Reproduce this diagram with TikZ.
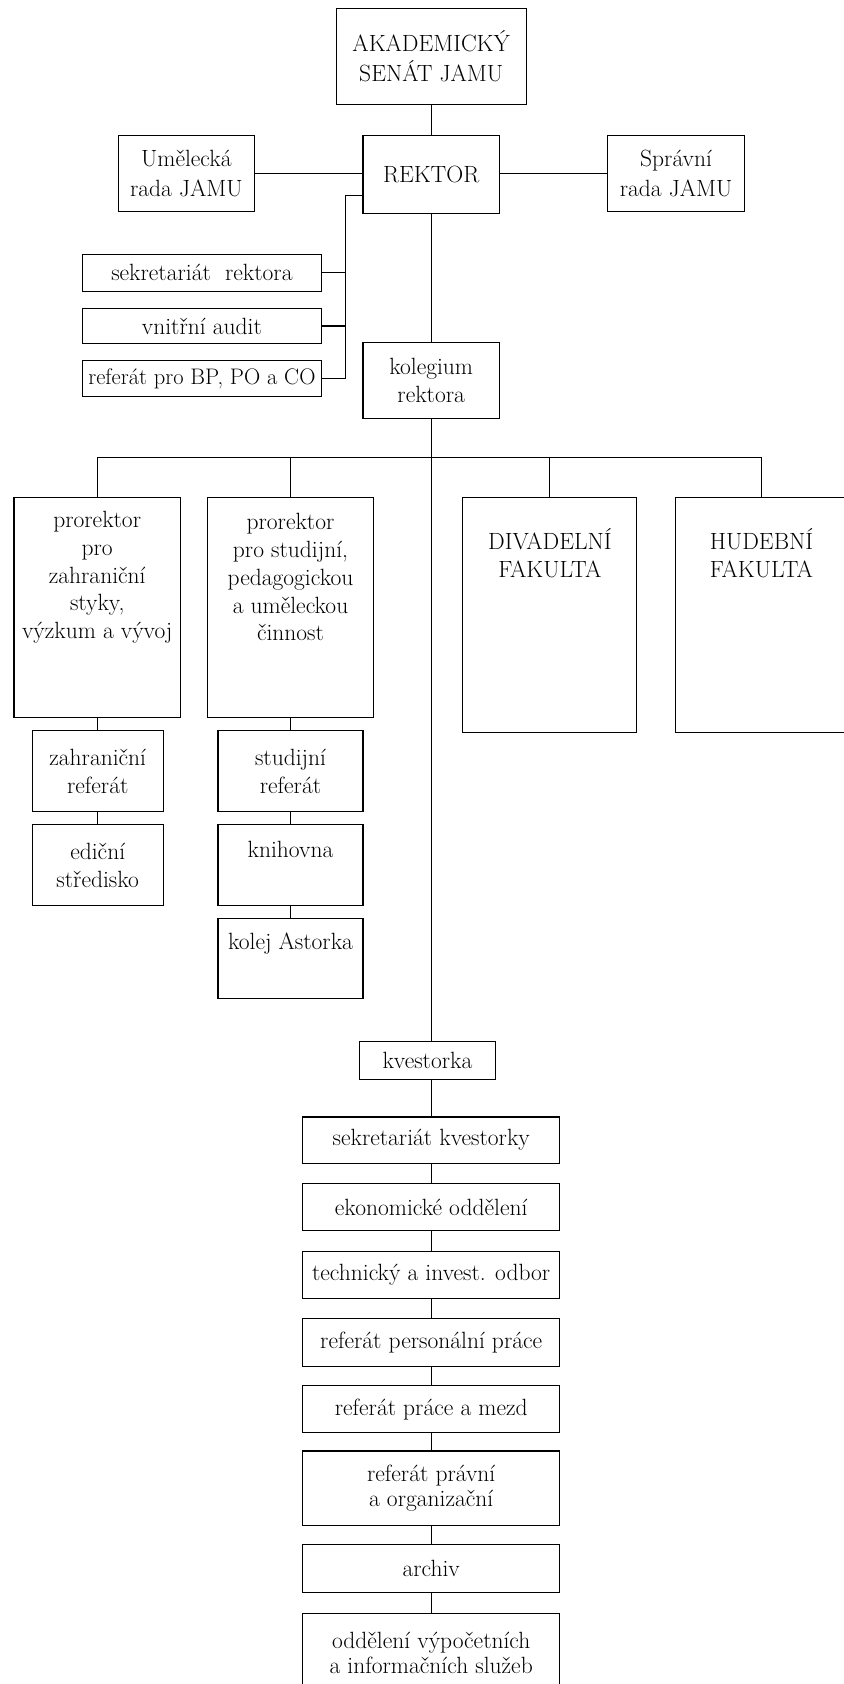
\documentclass[tikz,border=0pt]{standalone}
\usepackage{fontspec}
\newcommand\obox[6][]{\node[box,#1,minimum width={(#5-#3)*1.0739pt},minimum height={(#6-#4)*1.0739pt}] (#2) at ({(#3+#5)/2},{(#4+#6)/2})}
\begin{document}
\begin{tikzpicture}[x=1.0739pt,y=-1.0739pt,
  box/.style={draw,line width=1.1pt,rectangle,inner sep=0pt,align=center,
    font=\fontsize{23.5}{27.7}\selectfont},
  wide/.style={font=\fontsize{23.5}{30.5}\selectfont},
  tight/.style={font=\fontsize{23.5}{25}\selectfont},
  txt/.style={inner sep=0pt,align=center,font=\fontsize{23.5}{27.7}\selectfont},
  con/.style={line width=1.1pt}]
\useasboundingbox (0,0) rectangle (785,1568);
% top level
\obox[wide]{senat}{313}{8}{490}{97} {AKADEMICKÝ\\SENÁT JAMU};
\obox{rektor}{338}{126}{465}{199} {REKTOR};
\obox[wide]{umel}{110}{126}{237}{197} {Umělecká\\rada JAMU};
\obox[wide]{sprav}{566}{126}{693}{197} {Správní\\rada JAMU};
\obox{sek}{77}{237}{299}{271} {sekretariát\ \ rektora};
\obox{aud}{77}{287}{299}{320} {vnitřní audit};
\obox[font=\fontsize{22.5}{27}\selectfont]{ref}{77}{336}{299}{369} {referát pro BP, PO a CO};
\obox{kol}{338}{319}{465}{390} {kolegium\\rektora};
% second level
\obox{pr1}{13}{463}{168}{668} {};
\node[txt] (tpr1) at (90.5,537.5) {prorektor\\pro\\zahraniční\\styky,\\výzkum a vývoj};
\obox{pr2}{193}{463}{348}{668} {};
\node[txt] (tpr2) at (270.5,537.5) {prorektor\\pro studijní,\\pedagogickou\\a uměleckou\\činnost};
\obox{div}{431}{463}{593}{682} {};
\node[txt] (tdiv) at (512,515) {DIVADELNÍ\\FAKULTA};
\obox{hud}{629}{463}{789}{682} {};
\node[txt] (thud) at (709,515) {HUDEBNÍ\\FAKULTA};
\obox{zref}{30}{680}{152}{756} {zahraniční\\referát};
\obox{edic}{30}{768}{152}{843} {ediční\\středisko};
\obox{sref}{203}{680}{338}{756} {studijní\\referát};
\obox{knih}{203}{768}{338}{843} {};
\node[txt,anchor=base] (tknih) at (270.5,798) {knihovna};
\obox{kolej}{203}{855}{338}{930} {};
\node[txt,anchor=base] (tkolej) at (270.5,884) {kolej Astorka};
% kvestorka branch
\obox{kv}{335}{970}{461}{1005} {kvestorka};
\obox{k1}{282}{1040}{521}{1083} {sekretariát kvestorky};
\obox{k2}{282}{1102}{521}{1146} {ekonomické oddělení};
\obox{k3}{282}{1165}{521}{1209} {technický a invest. odbor};
\obox{k4}{282}{1228}{521}{1272} {referát personální práce};
\obox{k5}{282}{1290}{521}{1334} {referát práce a mezd};
\obox[tight]{k6}{282}{1351}{521}{1420} {referát právní\\a organizační};
\obox{k7}{282}{1438}{521}{1483} {archiv};
\obox{k8}{282}{1502}{521}{1590} {};
\node[txt,tight] (tk8) at (401.5,1539) {oddělení výpočetních\\a informačních služeb};
% connectors
\draw[con] (senat.south) -- (senat.south |- rektor.north);
\draw[con] (umel.east) -- (umel.east -| rektor.west);
\draw[con] (sprav.west) -- (sprav.west -| rektor.east);
\draw[con] (rektor.south) -- (rektor.south |- kol.north);
\coordinate (jr) at (322,182);
\draw[con] (jr -| rektor.west) -- (jr) |- (ref.east);
\draw[con] (sek.east) -- (sek.east -| jr);
\draw[con] (aud.east) -- (aud.east -| jr);
\coordinate (bus) at (402,426);
\draw[con] (pr1.north) |- (bus) -| (hud.north);
\draw[con] (pr2.north) -- (pr2.north |- bus);
\draw[con] (div.north) -- (div.north |- bus);
\draw[con] (kol.south) -- (kol.south |- kv.north);
\draw[con] (zref.north |- pr1.south) -- (zref.north);
\draw[con] (zref.south) -- (edic.north);
\draw[con] (sref.north |- pr2.south) -- (sref.north);
\draw[con] (sref.south) -- (knih.north);
\draw[con] (knih.south) -- (kolej.north);
\draw[con] (k1.north |- kv.south) -- (k1.north);
\draw[con] (k1.south) -- (k2.north);
\draw[con] (k2.south) -- (k3.north);
\draw[con] (k3.south) -- (k4.north);
\draw[con] (k4.south) -- (k5.north);
\draw[con] (k5.south) -- (k6.north);
\draw[con] (k6.south) -- (k7.north);
\draw[con] (k7.south) -- (k8.north);
\end{tikzpicture}
\end{document}
